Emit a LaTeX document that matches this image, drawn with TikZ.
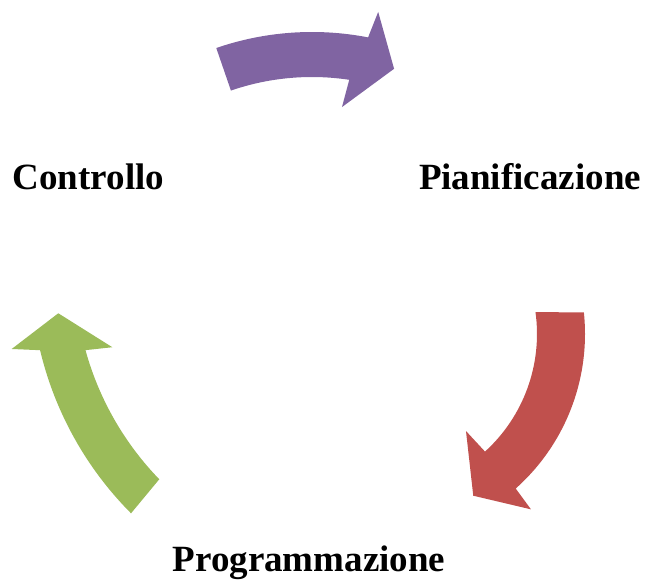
\documentclass[tikz,border=0pt]{standalone}
\usepackage{fontspec}
\setmainfont{Liberation Serif}
\usepackage{xcolor}
\usetikzlibrary{calc}
\definecolor{cyclepurple}{HTML}{8064A2}
\definecolor{cyclered}{HTML}{C0504D}
\definecolor{cyclegreen}{HTML}{9BBB59}

\begin{document}
\begin{tikzpicture}[x=1pt, y=1pt, phase/.style={font=\bfseries\fontsize{37}{44}\selectfont, anchor=base, inner sep=0pt}]
  \useasboundingbox (0,0) rectangle (646,579);

  \node[phase] (ctrl) at (88.5,389) {Controllo};
  \node[phase] (plan) at (530,389) {Pianificazione};
  \node[phase] (prog) at (309,7) {Programmazione};

  % centres of the three curved arrows
  \coordinate (cP) at (312,253);
  \coordinate (cR) at (378,245);
  \coordinate (cG) at (374.7,308.5);

  \fill[cyclepurple] ($(cP)+(109:294)$) arc[start angle=109, end angle=79, radius=294]
    -- ($(cP)+(78.1:321)$) -- ($(cP)+(72.3:270)$) -- ($(cP)+(82.2:221)$) -- ($(cP)+(81.4:249)$)
    arc[start angle=81.4, end angle=109, radius=249] -- cycle;
  \fill[cyclered] ($(cR)+(6:207)$) arc[start angle=6, end angle=-48.3, radius=207]
    -- ($(cR)+(-48.9:232.7)$) -- ($(cR)+(-59.5:187.7)$) -- ($(cR)+(-47.8:131)$) -- ($(cR)+(-47.7:159)$)
    arc[start angle=-47.7, end angle=7.9, radius=159] -- cycle;
  \fill[cyclegreen] ($(cG)+(224.9:344)$) arc[start angle=224.9, end angle=193.4, radius=344]
    -- ($(cG)+(192.2:371.4)$) -- ($(cG)+(187.7:319.3)$) -- ($(cG)+(196.3:273.4)$) -- ($(cG)+(195.4:300)$)
    arc[start angle=195.4, end angle=224.1, radius=300] -- cycle;
\end{tikzpicture}
\end{document}
